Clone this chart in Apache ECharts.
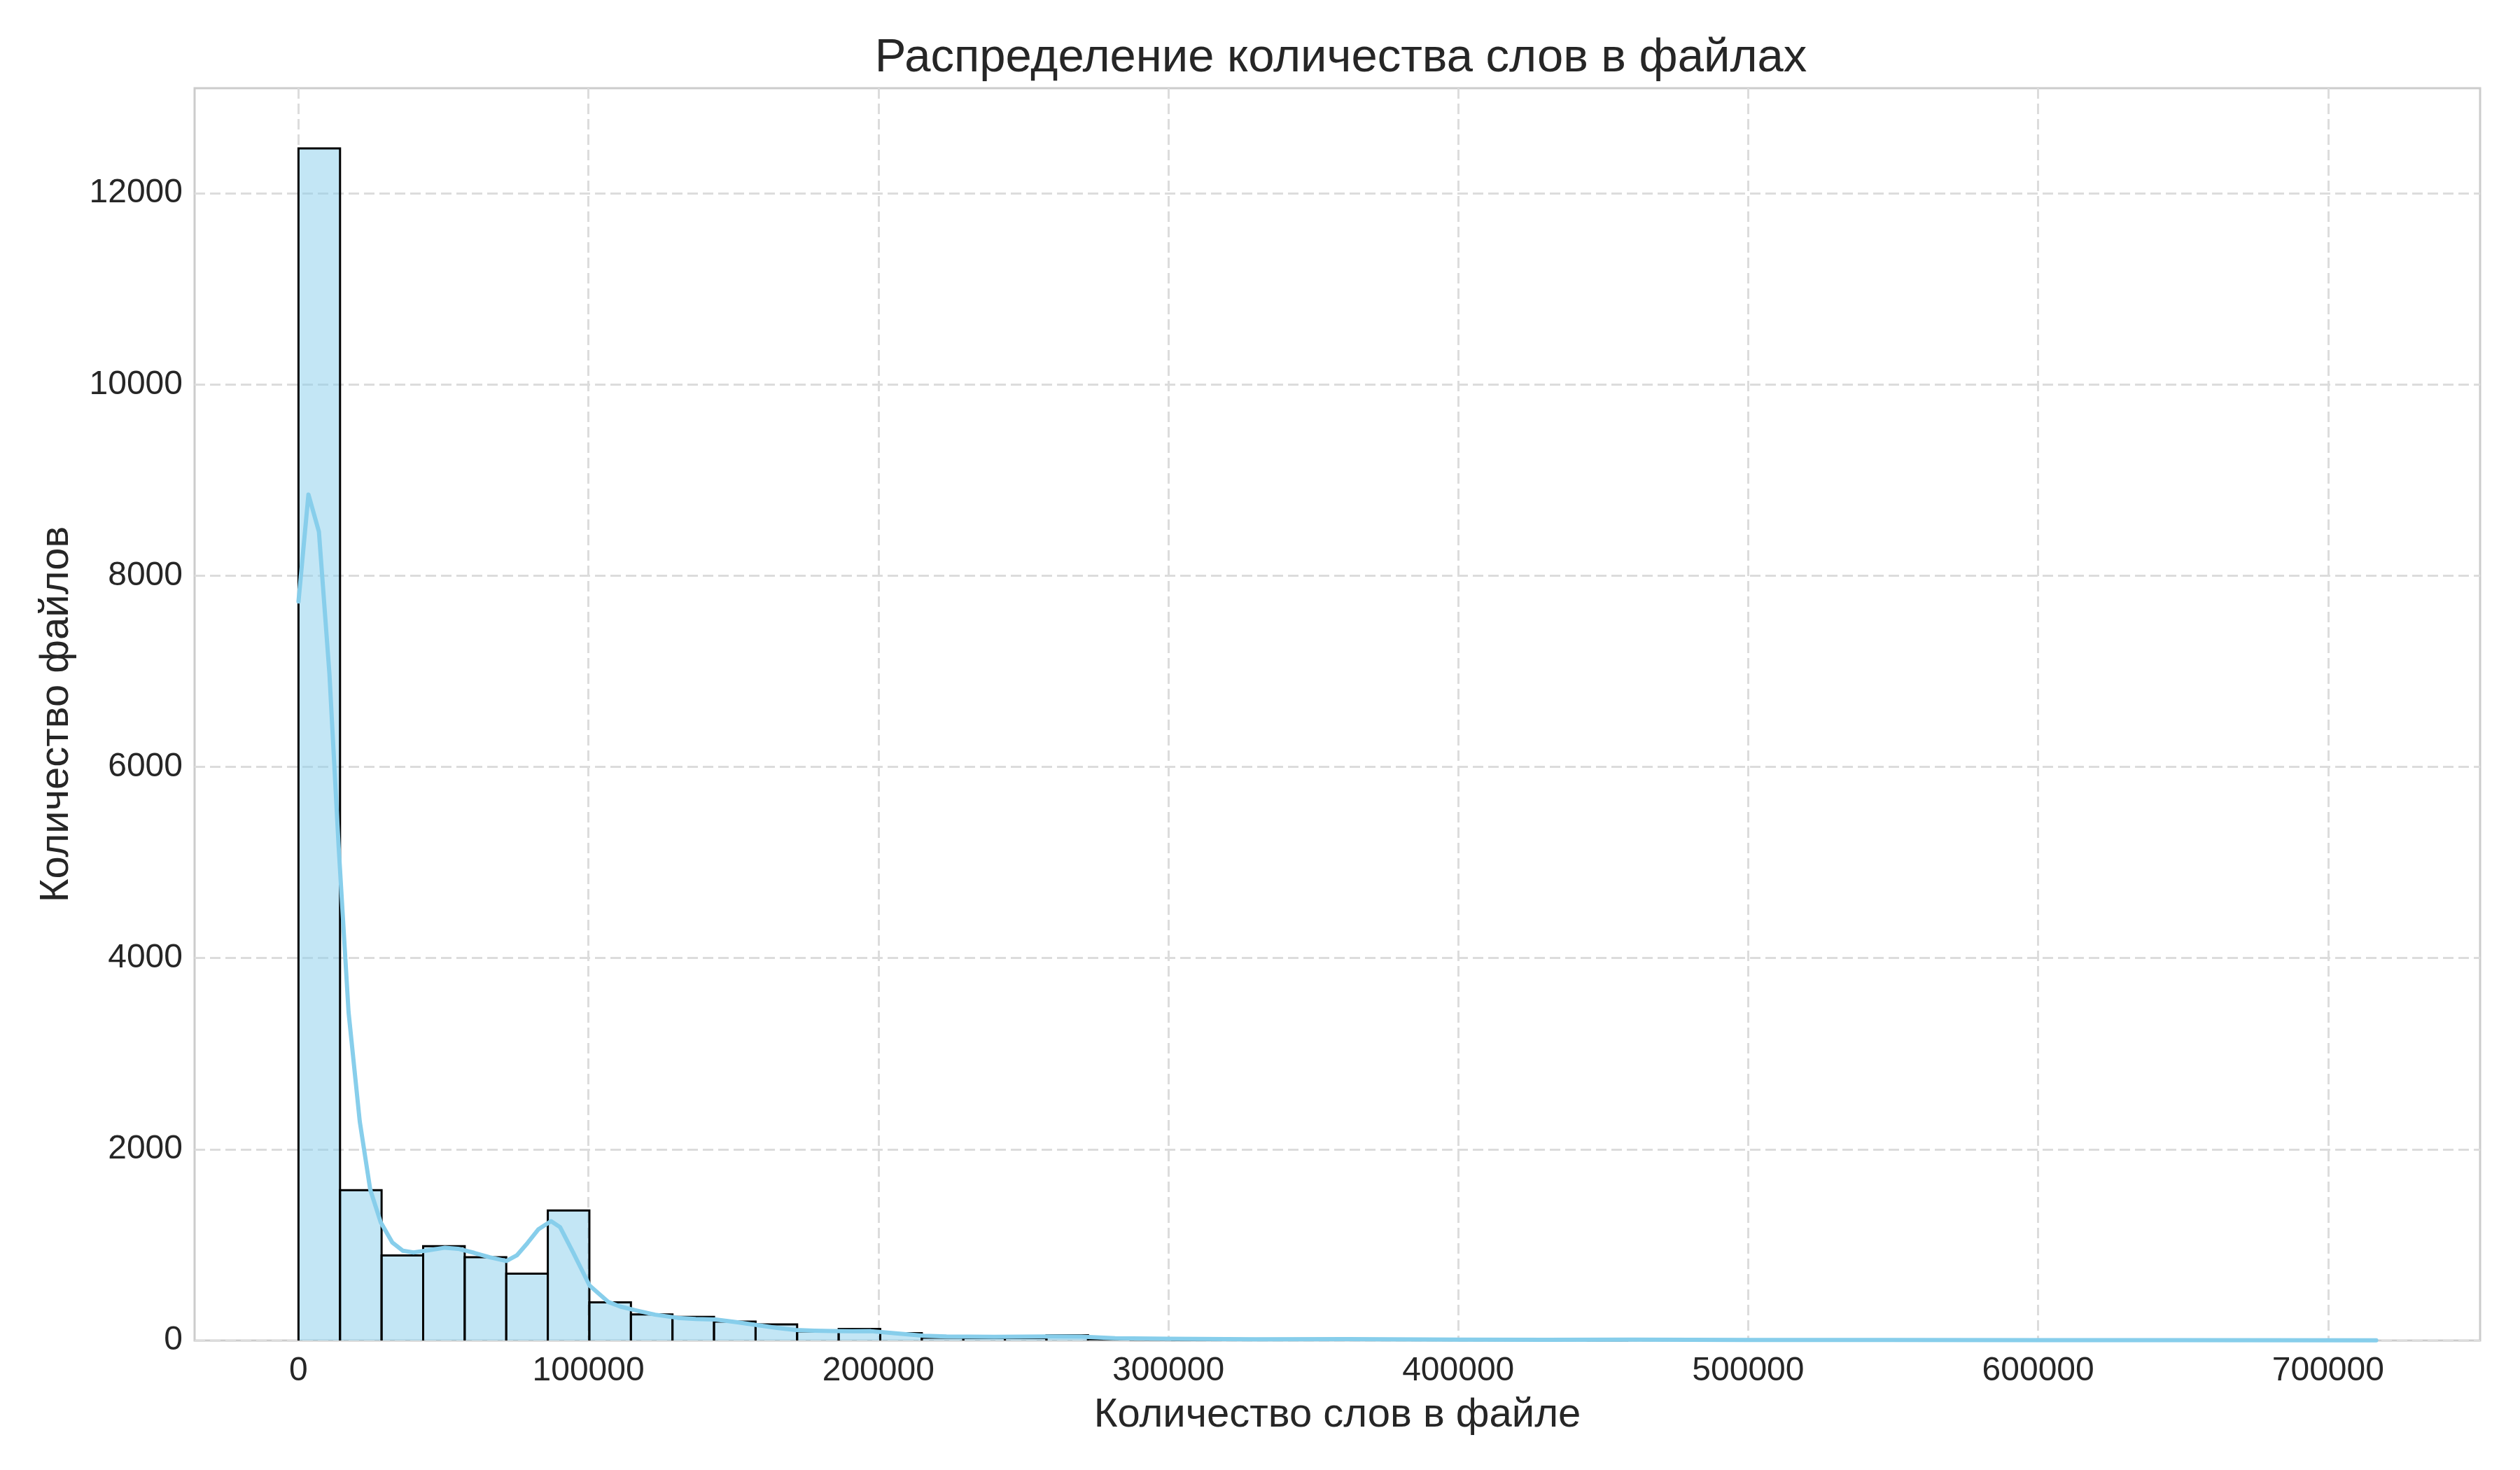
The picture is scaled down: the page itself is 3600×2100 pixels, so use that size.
<!DOCTYPE html>
<html>
<head>
<meta charset="utf-8">
<script src="https://cdn.jsdelivr.net/npm/echarts@6/dist/echarts.min.js"></script>
<style>
html,body{margin:0;padding:0;background:#fff;}
#chart{width:3600px;height:2100px;}
</style>
</head>
<body>
<div id="chart"></div>
<script>
// ---- data ----
const titleText = 'Распределение количества слов в файлах';
const xAxisName = 'Количество слов в файле';
const yAxisName = 'Количество файлов';

const binStart = 0;
const binWidth = 14332;
const binCounts = [12470, 1572, 889, 987, 871, 700, 1361, 399, 272, 247,
                   198, 169, 95, 120, 76, 30, 25, 25, 55, 12,
                   10, 8, 7, 6, 8, 5, 4, 3, 5, 4,
                   3, 2, 3, 4, 2, 2, 1, 2, 1, 1,
                   1, 1, 1, 0, 1, 0, 1, 0, 0, 1];

const kdeX = [0, 3430, 7050, 10670, 13890, 17270, 21130, 24750, 28380, 32400,
              36030, 39660, 45000, 50530, 55000, 60600, 66000, 71700, 75400, 79000,
              82700, 87100, 90200, 94800, 100400, 106800, 111000, 116000, 123000, 130800,
              137000, 143800, 151000, 158600, 165000, 171500, 178000, 184400, 191000, 197400,
              206000, 215800, 223500, 240000, 258300, 270000, 281700, 300000, 330000, 362000,
              400000, 430000, 460000, 500000, 550000, 600000, 650000, 716600];
const kdeY = [7730, 8850, 8460, 6975, 5147, 3435, 2292, 1578, 1235, 1024,
              939, 921, 945, 971, 960, 917, 870, 832, 893, 1020,
              1162, 1248, 1187, 917, 575, 404, 355, 318, 270, 237,
              226, 220, 192, 159, 132, 110, 102, 98, 97, 98,
              75, 50, 42, 38, 42, 40, 24, 18, 12, 14,
              10, 8, 10, 6, 5, 4, 3, 2];

const xTicks = [0, 100000, 200000, 300000, 400000, 500000, 600000, 700000];
const yTicks = [0, 2000, 4000, 6000, 8000, 10000, 12000];
const xMin = -35830, xMax = 752430;
const yMin = 0, yMax = 13100;

// ---- build ----
const histData = binCounts.map((c, i) => [binStart + i * binWidth, binStart + (i + 1) * binWidth, c]);
const kdeData = kdeX.map((x, i) => [x, kdeY[i]]);

const FONT = '"Liberation Sans", Arial, "DejaVu Sans", sans-serif';
const TXT = '#262626';
const GRID_L = 278, GRID_R = 57;

const chart = echarts.init(document.getElementById('chart'), null, {renderer: 'canvas'});
chart.setOption({
  backgroundColor: '#ffffff',
  animation: false,
  title: {
    text: titleText,
    left: (GRID_L + (3600 - GRID_R)) / 2,
    textAlign: 'center',
    top: 45,
    textStyle: {fontFamily: FONT, fontSize: 67, fontWeight: 'normal', color: TXT}
  },
  grid: {
    left: GRID_L, right: GRID_R, top: 126, bottom: 185,
    show: true, borderColor: '#cccccc', borderWidth: 3, backgroundColor: '#ffffff'
  },
  xAxis: {
    type: 'value',
    min: xMin, max: xMax,
    name: xAxisName,
    nameLocation: 'middle',
    nameGap: 78,
    nameTextStyle: {fontFamily: FONT, fontSize: 58, color: TXT},
    axisLine: {show: false},
    axisTick: {show: false, customValues: xTicks},
    axisLabel: {customValues: xTicks, fontFamily: FONT, fontSize: 48, color: TXT, margin: 20,
                formatter: v => String(v)},
    splitLine: {show: true, lineStyle: {color: '#dcdcdc', width: 3, type: [15, 7]}}
  },
  yAxis: {
    type: 'value',
    min: yMin, max: yMax,
    name: yAxisName,
    nameLocation: 'middle',
    nameGap: 168,
    nameTextStyle: {fontFamily: FONT, fontSize: 58, color: TXT},
    axisLine: {show: false},
    axisTick: {show: false, customValues: yTicks},
    axisLabel: {customValues: yTicks, fontFamily: FONT, fontSize: 48, color: TXT, margin: 17,
                formatter: v => String(v)},
    splitLine: {show: true, lineStyle: {color: '#dcdcdc', width: 3, type: [15, 7]}}
  },
  series: [
    {
      type: 'custom',
      name: 'hist',
      data: histData,
      encode: {x: [0, 1], y: 2},
      z: 2,
      renderItem: function (params, api) {
        const h = api.value(2);
        if (h <= 0) return null;
        const pTL = api.coord([api.value(0), h]);
        const pBR = api.coord([api.value(1), 0]);
        return {
          type: 'group',
          children: [
            {type: 'rect',
             shape: {x: pTL[0], y: pTL[1], width: pBR[0] - pTL[0], height: pBR[1] - pTL[1]},
             style: {fill: 'rgba(135,206,235,0.5)'}},
            {type: 'polyline',
             shape: {points: [[pTL[0], pBR[1]], [pTL[0], pTL[1]], [pBR[0], pTL[1]], [pBR[0], pBR[1]]]},
             style: {fill: null, stroke: '#000000', lineWidth: 3}}
          ]
        };
      }
    },
    {
      type: 'line',
      name: 'kde',
      data: kdeData,
      showSymbol: false,
      smooth: false,
      z: 5,
      lineStyle: {color: '#87ceeb', width: 6, join: 'round', cap: 'round'},
      itemStyle: {color: '#87ceeb'}
    }
  ]
});
</script>
</body>
</html>
